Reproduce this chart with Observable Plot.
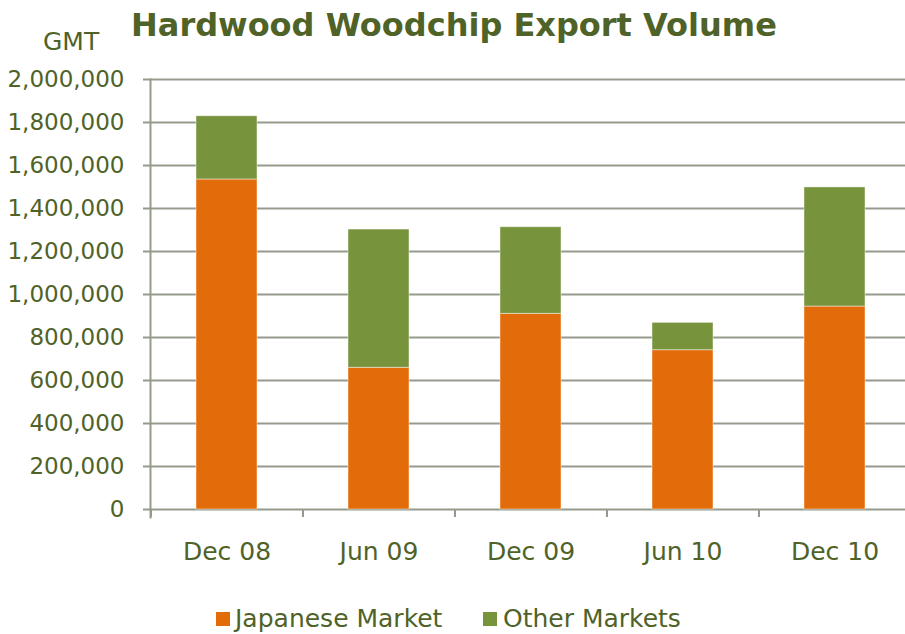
<!DOCTYPE html>
<html>
<head>
<meta charset="utf-8">
<script src="https://cdn.jsdelivr.net/npm/d3@7"></script>
<script src="https://cdn.jsdelivr.net/npm/@observablehq/plot@0.6"></script>
<style>
  html, body { margin: 0; padding: 0; background: #fff; overflow: hidden; }
  #wrap { position: relative; width: 905px; height: 634px; font-family: "DejaVu Sans", sans-serif; color: #4F6228; }
  #wrap svg { position: absolute; left: 0; top: 0; }
  .abs { position: absolute; white-space: nowrap; line-height: 1; }
  #title { left: 131px; top: 9px; font-size: 32px; font-weight: bold; }
  #unit { left: 43px; top: 29px; font-size: 25px; }
  .sw { position: absolute; width: 14px; height: 14px; }
  .lg { font-size: 25px; top: 606px; }
</style>
</head>
<body>
<div id="wrap">
  <div id="title" class="abs">Hardwood Woodchip Export Volume</div>
  <div id="unit" class="abs">GMT</div>
  <div class="sw" style="left:216px; top:612px; background:#E36C0A;"></div>
  <div class="abs lg" style="left:235px;">Japanese Market</div>
  <div class="sw" style="left:483px; top:612px; background:#77933C;"></div>
  <div class="abs lg" style="left:503px;">Other Markets</div>
</div>
<script>
const periods = ["Dec 08", "Jun 09", "Dec 09", "Jun 10", "Dec 10"];
const markets = ["Japanese Market", "Other Markets"];
const japanese = [1535000, 659000, 910000, 741000, 944000];
const other = [294000, 643000, 403000, 127000, 554000];
const yTicks = [0, 200000, 400000, 600000, 800000, 1000000, 1200000, 1400000, 1600000, 1800000, 2000000];
const colors = ["#E36C0A", "#77933C"];

const rows = [];
periods.forEach((p, i) => {
  rows.push({period: p, market: markets[0], value: japanese[i]});
  rows.push({period: p, market: markets[1], value: other[i]});
});

const W = 905, H = 634, mL = 150, mR = -5, mT = 79, mB = 125;
const step = (W - mL - mR) / periods.length;
const grey = "#959b8b";
const olive = "#4F6228";

const chart = Plot.plot({
  width: W,
  height: H,
  marginLeft: mL,
  marginRight: mR,
  marginTop: mT,
  marginBottom: mB,
  style: {fontFamily: "DejaVu Sans, sans-serif", background: "transparent", overflow: "visible"},
  x: {domain: periods, paddingInner: 0.6, paddingOuter: 0.3, label: null},
  y: {domain: [0, 2000000], label: null},
  color: {domain: markets, range: colors},
  marks: [
    Plot.ruleY(yTicks, {stroke: grey, strokeWidth: 2}),
    Plot.barY(rows, {x: "period", y: "value", fill: "market", order: markets, stroke: "#ffffff", strokeOpacity: 0.45, strokeWidth: 1}),
    Plot.frame({anchor: "left", stroke: grey, strokeWidth: 2, insetBottom: -8}),
    Plot.ruleX(periods, {x: d => d, y1: 0, y2: 0, dx: -step / 2, insetBottom: -8, stroke: grey, strokeWidth: 2}),
    Plot.axisY({ticks: yTicks, tickSize: 7, tickPadding: 19, tickFormat: d3.format(","), stroke: grey, strokeWidth: 2, fill: olive, fontSize: 23, label: null}),
    Plot.axisX({tickSize: 0, tickPadding: 33, fill: olive, fontSize: 25, label: null})
  ]
});
document.getElementById("wrap").prepend(chart);
</script>
</body>
</html>
